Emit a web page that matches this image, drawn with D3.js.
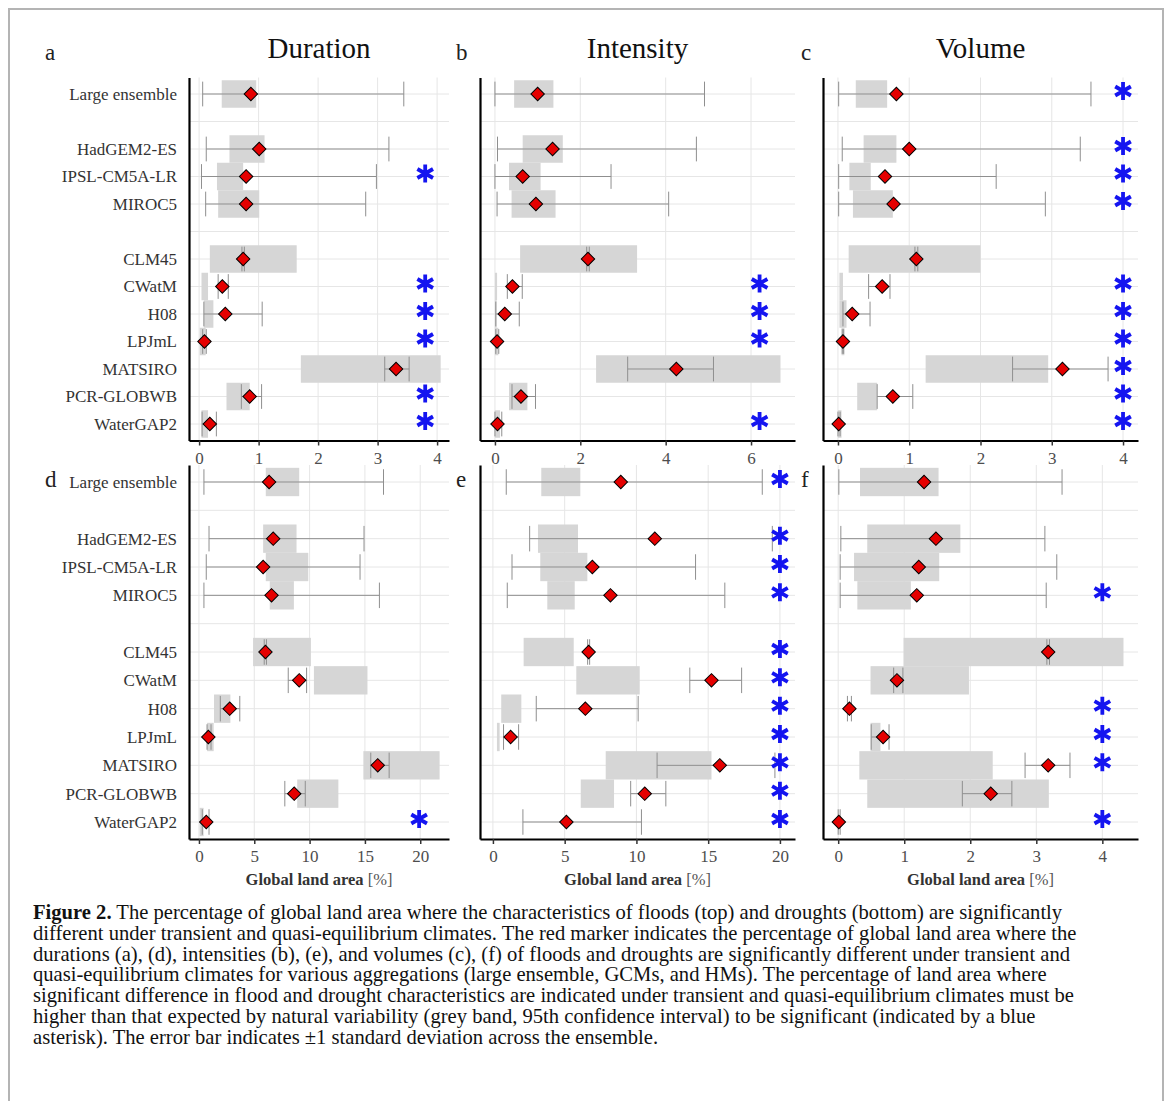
<!DOCTYPE html>
<html>
<head>
<meta charset="utf-8">
<script src="https://cdn.jsdelivr.net/npm/d3@7"></script>
<style>
  body { margin: 0; background: #fff; }
  svg text { font-family: "Liberation Serif", "Times New Roman", serif; }
</style>
</head>
<body>
<div id="wrapper"></div>
<script>
// rows of every panel, the two "gap" slots stay empty
const rowNames = ["Large ensemble", "gap1", "HadGEM2-ES", "IPSL-CM5A-LR", "MIROC5", "gap2",
                  "CLM45", "CWatM", "H08", "LPJmL", "MATSIRO", "PCR-GLOBWB", "WaterGAP2"]
const models = rowNames.filter(d => !d.startsWith("gap"))

// a. floods, duration
const floodDurMean = [0.87, 1.01, 0.79, 0.79, 0.74, 0.39, 0.44, 0.09, 3.31, 0.85, 0.18]
const floodDurBand = [[0.38, 0.96], [0.51, 1.10], [0.30, 0.74], [0.32, 1.01], [0.18, 1.64], [0.04, 0.15],
                      [0.08, 0.24], [0.01, 0.11], [1.71, 4.06], [0.46, 0.85], [0.04, 0.15]]
const floodDurSd = [[0.06, 3.44], [0.12, 3.19], [0.04, 2.98], [0.11, 2.80], [0.72, 0.76], [0.32, 0.49],
                    [0.08, 1.06], [0.06, 0.12], [3.12, 3.53], [0.71, 1.05], [0.05, 0.29]]
const floodDurSig = [0, 0, 1, 0, 0, 1, 1, 1, 0, 1, 1]

// b. floods, intensity
const floodIntMean = [1.00, 1.35, 0.65, 0.96, 2.18, 0.41, 0.23, 0.05, 4.25, 0.61, 0.06]
const floodIntBand = [[0.45, 1.37], [0.65, 1.59], [0.33, 1.07], [0.39, 1.42], [0.59, 3.33], [0.0, 0.05],
                      [0.0, 0.04], [0.0, 0.08], [2.37, 6.69], [0.33, 0.76], [0.0, 0.12]]
const floodIntSd = [[0.0, 4.91], [0.06, 4.72], [0.0, 2.72], [0.05, 4.07], [2.15, 2.21], [0.29, 0.64],
                    [0.02, 0.57], [0.02, 0.09], [3.11, 5.12], [0.40, 0.95], [0.0, 0.16]]
const floodIntSig = [0, 0, 0, 0, 0, 1, 1, 1, 0, 0, 1]

// c. floods, volume
const floodVolMean = [0.82, 1.00, 0.66, 0.78, 1.10, 0.62, 0.20, 0.07, 3.15, 0.77, 0.01]
const floodVolBand = [[0.25, 0.69], [0.36, 0.82], [0.16, 0.46], [0.21, 0.77], [0.15, 2.00], [0.02, 0.07],
                      [0.02, 0.12], [0.05, 0.09], [1.23, 2.95], [0.27, 0.55], [0.0, 0.05]]
const floodVolSd = [[0.01, 3.55], [0.06, 3.40], [0.01, 2.22], [0.01, 2.91], [1.08, 1.12], [0.43, 0.73],
                    [0.07, 0.45], [0.06, 0.08], [2.45, 3.79], [0.55, 1.05], [0.0, 0.03]]
const floodVolSig = [1, 1, 1, 1, 0, 1, 1, 1, 1, 1, 1]

// d. droughts, duration
const droughtDurMean = [6.34, 6.71, 5.80, 6.56, 6.01, 9.06, 2.78, 0.85, 16.16, 8.61, 0.66]
const droughtDurBand = [[6.04, 9.06], [5.80, 8.82], [6.04, 9.88], [6.40, 8.58], [4.89, 10.12], [10.39, 15.23],
                        [1.36, 2.84], [0.73, 1.33], [14.86, 21.75], [8.88, 12.60], [0.06, 0.42]]
const droughtDurSd = [[0.45, 16.68], [0.91, 14.92], [0.66, 14.56], [0.45, 16.31], [5.90, 6.10], [8.07, 9.73],
                      [1.93, 3.69], [0.73, 1.09], [15.53, 17.19], [7.76, 9.61], [0.30, 0.91]]
const droughtDurSig = [0, 0, 0, 0, 0, 0, 0, 0, 0, 0, 1]

// e. droughts, intensity
const droughtIntMean = [8.91, 11.28, 6.93, 8.19, 6.67, 15.23, 6.44, 1.23, 15.81, 10.58, 5.12]
const droughtIntBand = [[3.37, 6.09], [3.14, 5.93], [3.30, 6.58], [3.79, 5.70], [2.14, 5.63], [5.81, 10.23],
                        [0.58, 1.98], [0.28, 0.47], [7.86, 15.23], [6.12, 8.44], [0, 0]]
const droughtIntSd = [[0.93, 18.77], [2.56, 19.47], [1.33, 14.12], [1.00, 16.16], [6.60, 6.74], [13.72, 17.33],
                      [3.02, 10.12], [0.74, 1.79], [11.44, 19.65], [9.60, 12.05], [2.09, 10.35]]
const droughtIntSig = [1, 1, 1, 1, 1, 1, 1, 1, 1, 1, 1]

// f. droughts, volume
const droughtVolMean = [1.30, 1.48, 1.22, 1.19, 3.18, 0.89, 0.17, 0.68, 3.18, 2.31, 0.01]
const droughtVolBand = [[0.33, 1.52], [0.44, 1.85], [0.24, 1.53], [0.29, 1.10], [0.99, 4.32], [0.49, 1.98],
                        [0, 0], [0.49, 0.64], [0.32, 2.34], [0.44, 3.19], [0, 0]]
const droughtVolSd = [[0.01, 3.39], [0.04, 3.13], [0.03, 3.31], [0.03, 3.15], [3.16, 3.20], [0.84, 0.98],
                      [0.14, 0.20], [0.50, 0.77], [2.83, 3.51], [1.88, 2.63], [0.0, 0.03]]
const droughtVolSig = [0, 0, 0, 1, 0, 0, 1, 1, 1, 0, 1]

const titles = ["Duration", "Intensity", "Volume"]
const letters = ["a", "b", "c", "d", "e", "f"]

const captionLines = [
  ["Figure 2.", " The percentage of global land area where the characteristics of floods (top) and droughts (bottom) are significantly"],
  ["", "different under transient and quasi-equilibrium climates. The red marker indicates the percentage of global land area where the"],
  ["", "durations (a), (d), intensities (b), (e), and volumes (c), (f) of floods and droughts are significantly different under transient and"],
  ["", "quasi-equilibrium climates for various aggregations (large ensemble, GCMs, and HMs). The percentage of land area where"],
  ["", "significant difference in flood and drought characteristics are indicated under transient and quasi-equilibrium climates must be"],
  ["", "higher than that expected by natural variability (grey band, 95th confidence interval) to be significant (indicated by a blue"],
  ["", "asterisk). The error bar indicates \u00b11 standard deviation across the ensemble."],
]

const panels = [
  { mean: floodDurMean, band: floodDurBand, sd: floodDurSd, sig: floodDurSig, domain: [-0.17, 4.2], ticks: [0, 1, 2, 3, 4], star: 3.8 },
  { mean: floodIntMean, band: floodIntBand, sd: floodIntSd, sig: floodIntSig, domain: [-0.35, 7.03], ticks: [0, 2, 4, 6], star: 6.2 },
  { mean: floodVolMean, band: floodVolBand, sd: floodVolSd, sig: floodVolSig, domain: [-0.21, 4.21], ticks: [0, 1, 2, 3, 4], star: 4 },
  { mean: droughtDurMean, band: droughtDurBand, sd: droughtDurSd, sig: droughtDurSig, domain: [-0.9, 22.6], ticks: [0, 5, 10, 15, 20], star: 19.9 },
  { mean: droughtIntMean, band: droughtIntBand, sd: droughtIntSd, sig: droughtIntSig, domain: [-0.9, 21.05], ticks: [0, 5, 10, 15, 20], star: 20 },
  { mean: droughtVolMean, band: droughtVolBand, sd: droughtVolSd, sig: droughtVolSig, domain: [-0.23, 4.54], ticks: [0, 1, 2, 3, 4], star: 4 },
]

// layout
const colRanges = [[189, 449], [480, 795], [823, 1138]]
const rowRanges = [[77.5, 440.5], [465, 839]]
const letterX = [45, 456, 801]
const letterY = [60, 487]

const wrapper = d3.select("#wrapper")
  .append("svg")
  .attr("width", 1168)
  .attr("height", 1101)

wrapper.append("rect").attr("width", 1168).attr("height", 1101).attr("fill", "#fff")

// frame round the figure
wrapper.append("path")
  .attr("d", "M9,1101V9H1163V1101")
  .attr("fill", "none")
  .attr("stroke", "#b4b4b4")
  .attr("stroke-width", 2)

const diamond = d3.symbol(d3.symbolSquare, 90)
const asterisk = d3.symbol(d3.symbolAsterisk, 230)

panels.forEach((p, k) => {
  const col = k % 3
  const row = Math.floor(k / 3)
  const xScale = d3.scaleLinear().domain(p.domain).range(colRanges[col])
  const yScale = d3.scalePoint().domain(rowNames).range(rowRanges[row]).padding(0.6)
  const step = yScale.step()
  const [x0, x1] = colRanges[col]
  const [y0, y1] = rowRanges[row]

  const bounds = wrapper.append("g")

  // grid
  bounds.selectAll(".vgrid").data(p.ticks).join("line")
    .attr("x1", d => xScale(d)).attr("x2", d => xScale(d))
    .attr("y1", y0).attr("y2", y1)
    .attr("stroke", "#e6e6e6").attr("stroke-width", 1)
  bounds.selectAll(".hgrid").data(rowNames).join("line")
    .attr("x1", x0).attr("x2", x1)
    .attr("y1", d => yScale(d)).attr("y2", d => yScale(d))
    .attr("stroke", "#e6e6e6").attr("stroke-width", 1)

  const data = models.map((m, i) => ({
    model: m, mean: p.mean[i], band: p.band[i], sd: p.sd[i], sig: p.sig[i]
  }))

  // natural variability band
  bounds.selectAll(".band").data(data).join("rect")
    .attr("x", d => xScale(d.band[0]))
    .attr("width", d => xScale(d.band[1]) - xScale(d.band[0]))
    .attr("y", d => yScale(d.model) - step / 2)
    .attr("height", step)
    .attr("fill", "#d6d6d6")

  // error bars
  const err = bounds.selectAll(".err").data(data).join("g")
    .attr("stroke", "#8f8f8f").attr("stroke-width", 1)
  err.append("line")
    .attr("x1", d => xScale(d.sd[0])).attr("x2", d => xScale(d.sd[1]))
    .attr("y1", d => yScale(d.model)).attr("y2", d => yScale(d.model))
  err.selectAll("line.cap").data(d => d.sd.map(v => ({ v, model: d.model }))).join("line")
    .attr("class", "cap")
    .attr("x1", d => xScale(d.v)).attr("x2", d => xScale(d.v))
    .attr("y1", d => yScale(d.model) - step * 0.45)
    .attr("y2", d => yScale(d.model) + step * 0.45)

  // markers
  bounds.selectAll(".dot").data(data).join("path")
    .attr("d", diamond)
    .attr("transform", d => `translate(${xScale(d.mean)},${yScale(d.model)}) rotate(45)`)
    .attr("fill", "#e50000")
    .attr("stroke", "#000")
    .attr("stroke-width", 1)

  // significance
  bounds.selectAll(".star").data(data.filter(d => d.sig)).join("path")
    .attr("d", asterisk)
    .attr("transform", d => `translate(${xScale(p.star)},${yScale(d.model) - 3})`)
    .attr("fill", "none")
    .attr("stroke", "#1414f0")
    .attr("stroke-width", 3.8)

  // axes
  const xAxis = bounds.append("g")
    .attr("transform", `translate(0,${y1})`)
    .call(d3.axisBottom(xScale).tickValues(p.ticks).tickFormat(d3.format("d"))
      .tickSize(5).tickSizeOuter(0).tickPadding(6))
  xAxis.attr("font-family", null).attr("font-size", 17)
  xAxis.select(".domain").attr("stroke", "#000").attr("stroke-width", 2.2)
  xAxis.selectAll(".tick line").attr("stroke", "#333").attr("stroke-width", 1.5)
  xAxis.selectAll(".tick text").attr("fill", "#4d4d4d")

  const yAxis = bounds.append("g")
    .attr("transform", `translate(${x0},0)`)
    .call(d3.axisLeft(yScale).tickSize(0).tickSizeOuter(0).tickPadding(12)
      .tickFormat(d => (col === 0 && !d.startsWith("gap")) ? d : ""))
  yAxis.attr("font-family", null).attr("font-size", 17)
  yAxis.select(".domain").attr("stroke", "#000").attr("stroke-width", 2.2)
  yAxis.selectAll(".tick text").attr("fill", "#333")

  if (row === 1) {
    const xLabel = bounds.append("text")
      .attr("x", (x0 + x1) / 2)
      .attr("y", 885)
      .attr("text-anchor", "middle")
      .attr("font-size", 16.5)
      .attr("fill", "#333")
    xLabel.append("tspan").attr("font-weight", "bold").text("Global land area ")
    xLabel.append("tspan").attr("fill", "#555").text("[%]")
  } else {
    bounds.append("text")
      .attr("x", (x0 + x1) / 2)
      .attr("y", 58)
      .attr("text-anchor", "middle")
      .attr("font-size", 29)
      .attr("fill", "#111")
      .text(titles[col])
  }

  wrapper.append("text")
    .attr("x", letterX[col])
    .attr("y", letterY[row])
    .attr("font-size", 23)
    .attr("fill", "#222")
    .text(letters[k])
})

// caption
const caption = wrapper.append("text")
  .attr("font-size", 20.6)
  .attr("fill", "#111")
captionLines.forEach((line, i) => {
  const t = caption.append("tspan").attr("x", 33).attr("y", 919 + i * 20.8)
  if (line[0]) t.append("tspan").attr("font-weight", "bold").text(line[0])
  t.append("tspan").text(line[1])
})
</script>
</body>
</html>
